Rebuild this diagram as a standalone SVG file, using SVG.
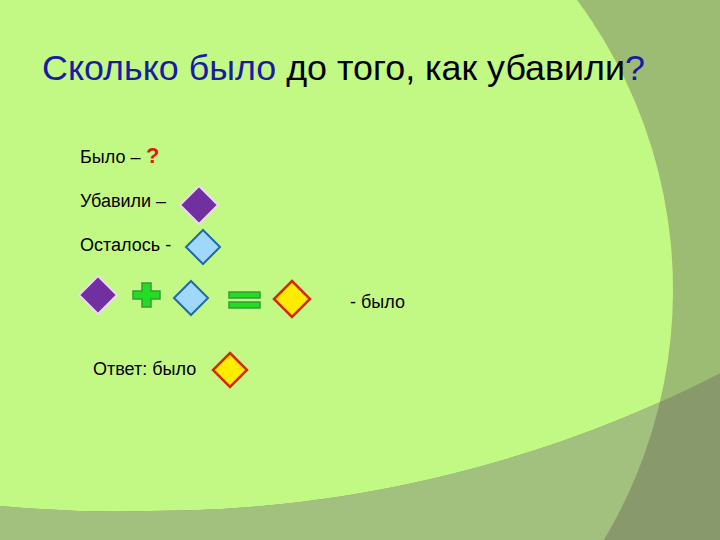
<svg xmlns="http://www.w3.org/2000/svg" width="720" height="540" viewBox="0 0 720 540">
<style>
text{font-family:"Liberation Sans",Arial,sans-serif;fill:#000}
.lbl{font-size:18px}
.blue{fill:#1a1aa6}
.purple{fill:#7030a0;stroke:#ecd8f4;stroke-width:2}
.sky{fill:#9fd8fa;stroke:#1f6aa8;stroke-width:2}
.gold{fill:#ffec00;stroke:#d42a00;stroke-width:2.5}
.op{fill:#22dd22;stroke:#3a9a3a;stroke-width:1.5}
</style>
<defs>
<clipPath id="circ"><circle cx="187" cy="290" r="486"/></clipPath>
</defs>
<rect width="720" height="540" fill="#9cbc74"/>
<circle cx="187" cy="290" r="486" fill="#c2f985"/>
<path d="M-10,540 L-10,505 A1246,1246 0 0 0 150,511 A1246,1246 0 0 0 730,368 L730,540 Z" fill="#889a6c"/>
<path d="M-10,540 L-10,505 A1246,1246 0 0 0 150,511 A1246,1246 0 0 0 730,368 L730,540 Z" fill="#a2c17e" clip-path="url(#circ)"/>
<text x="42" y="80" font-size="34.5" textLength="603" lengthAdjust="spacingAndGlyphs"><tspan class="blue">Сколько было</tspan> до того, как убавили<tspan class="blue">?</tspan></text>
<g id="row-bylo">
<text class="lbl" x="80" y="163">Было –</text>
<text x="146" y="163" font-size="22" font-weight="bold" style="fill:#e01a10">?</text>
</g>
<g id="row-ubavili">
<text class="lbl" x="80" y="207">Убавили –</text>
<polygon class="purple" points="199,186 218,205 199,224 180,205"/>
</g>
<g id="row-ostalos">
<text class="lbl" x="80" y="251">Осталось  -</text>
<polygon class="sky" points="203,230 220,247 203,264 186,247"/>
</g>
<g id="equation">
<polygon class="purple" points="98,276 117,295 98,314 79,295"/>
<path class="op" d="M142,283 h9 v8 h9 v8 h-9 v8 h-9 v-8 h-9 v-8 h9 z"/>
<polygon class="sky" points="191,281 208,298 191,315 174,298"/>
<rect class="op" x="229" y="292" width="31" height="6" fill="#22cc44"/>
<rect class="op" x="229" y="302" width="31" height="6" fill="#22cc44"/>
<polygon class="gold" points="292,281 310,299 292,317 274,299"/>
<text class="lbl" x="350" y="308">- было</text>
</g>
<g id="answer">
<text class="lbl" x="93" y="375">Ответ: было</text>
<polygon class="gold" points="230,353 247,370 230,387 213,370"/>
</g>
</svg>
